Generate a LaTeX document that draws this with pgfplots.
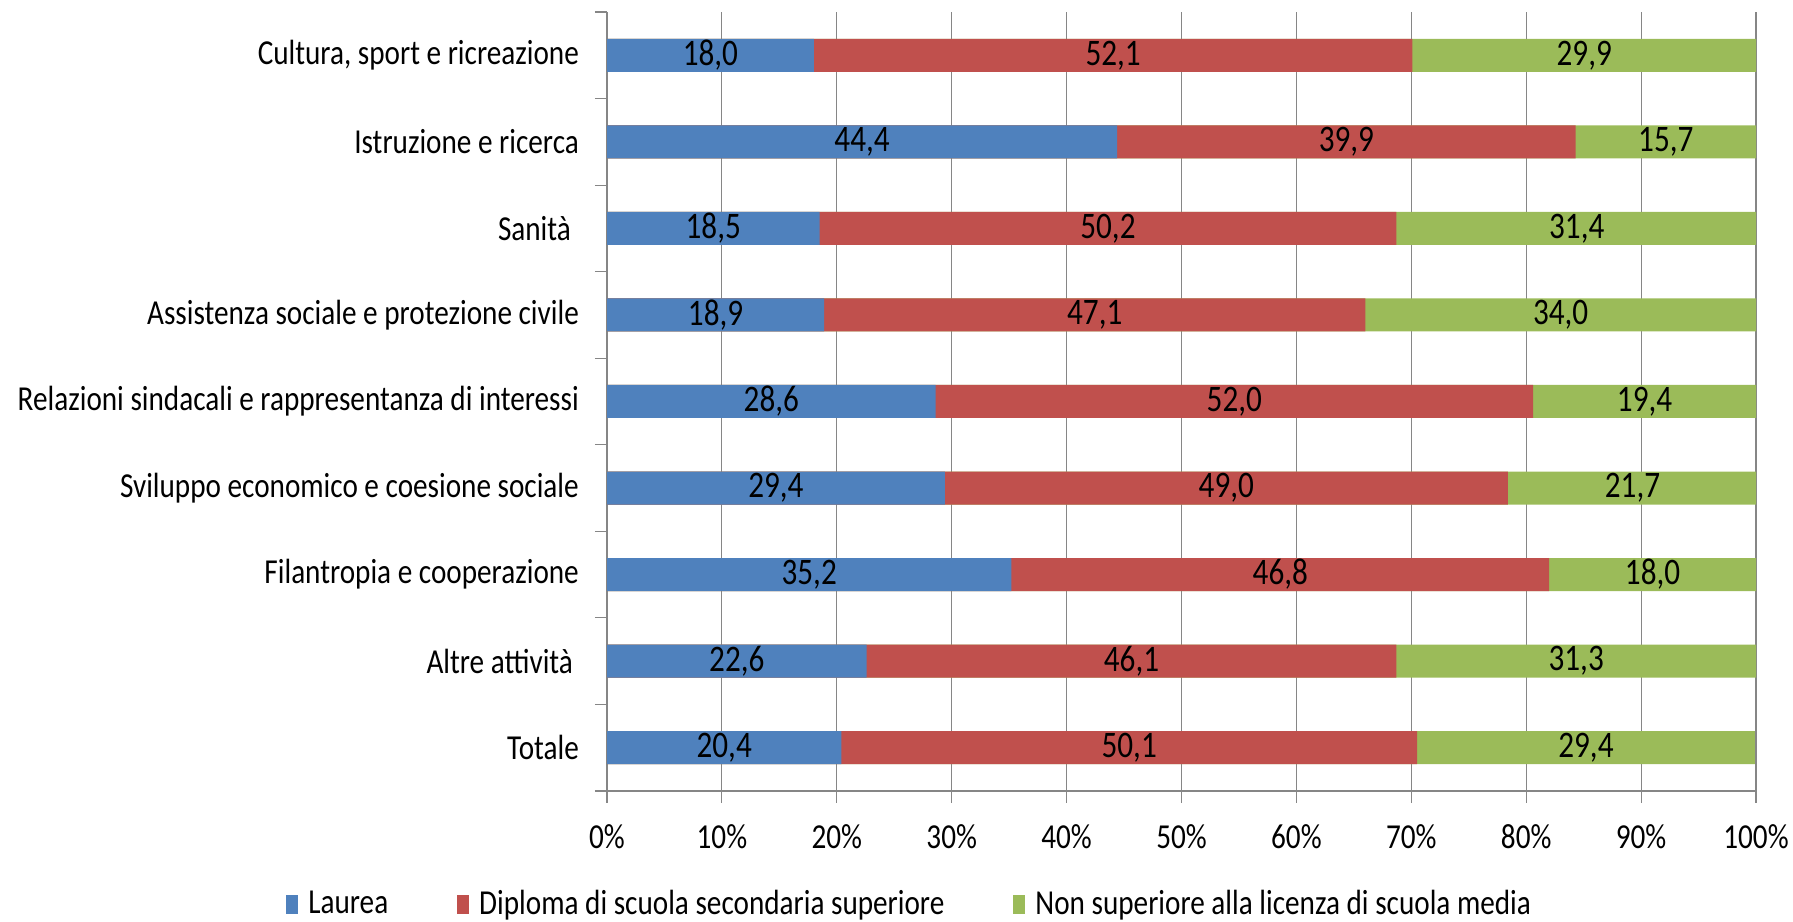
\documentclass[border=0pt]{standalone}
\usepackage{fontspec}
\setmainfont{Carlito}
\usepackage{graphicx}
\usepackage{pgfplots}
\usepackage{pgfplotstable}
\pgfplotsset{compat=1.18}
\definecolor{cblue}{HTML}{4F81BD}
\definecolor{cred}{HTML}{C0504D}
\definecolor{cgreen}{HTML}{9BBB59}
\definecolor{gridgray}{HTML}{868686}
\newcommand\vs[1]{\scalebox{1}[1.2]{#1}}
\newcommand\dl[1]{{\fontsize{15.6bp}{18bp}\selectfont\vs{#1}}}
\pgfplotstableread{
y a b c
8 18.0 52.1 29.9
7 44.4 39.9 15.7
6 18.5 50.2 31.4
5 18.9 47.1 34.0
4 28.6 52.0 19.4
3 29.4 49.0 21.7
2 35.2 46.8 18.0
1 22.6 46.1 31.3
0 20.4 50.1 29.4
}\datatab
\begin{document}
\fontsize{14.6bp}{17.5bp}\selectfont
\begin{tikzpicture}
\begin{axis}[name=ax, scale only axis, width=574.5bp, height=389.5bp,
  xmin=0, xmax=100, ymin=-0.5, ymax=8.5,
  /pgf/number format/assume math mode=true,
  axis x line*=bottom, axis y line*=left,
  axis line style={gridgray, line width=0.6bp},
  tick style={gridgray, line width=0.6bp},
  tick align=outside, major tick length=6bp,
  xtick={0,10,...,100},
  xticklabel={\vs{\pgfmathprintnumber{\tick}\%}},
  xmajorgrids, grid style={gridgray, line width=0.6bp},
  ytick={-0.5,0.5,...,8.5},
  y tick label as interval,
  yticklabels={\vs{Totale}, \vs{Altre attività\hspace{3bp}}, \vs{Filantropia e cooperazione}, \vs{Sviluppo economico e coesione sociale}, \vs{Relazioni sindacali e rappresentanza di interessi}, \vs{Assistenza sociale e protezione civile}, \vs{Sanità\hspace{4bp}}, \vs{Istruzione e ricerca}, \vs{{Cultura, sport e ricreazione}}},
  yticklabel style={xshift=-3bp},
  xticklabel style={yshift=-5.5bp},
  legend style={at={(-0.2794,-0.146)}, anchor=west, draw=none, inner sep=0pt, legend columns=3,
    /tikz/every even column/.append style={column sep=32.5bp},
    /tikz/every odd column/.append style={column sep=3bp}},
  legend image code/.code={\fill[#1] (0bp,-4.8bp) rectangle (6bp,4.8bp);},
  reverse legend,
]
\addplot[xbar, bar width=16.5bp, bar shift=0pt, fill=cgreen, draw=none] table[x expr=\thisrow{a}+\thisrow{b}+\thisrow{c}, y=y]{\datatab};
\addlegendentry{\vs{Non superiore alla licenza di scuola media}}
\addplot[xbar, bar width=16.5bp, bar shift=0pt, fill=cred, draw=none] table[x expr=\thisrow{a}+\thisrow{b}, y=y]{\datatab};
\addlegendentry{\vs{Diploma di scuola secondaria superiore}}
\addplot[xbar, bar width=16.5bp, bar shift=0pt, fill=cblue, draw=none] table[x=a, y=y]{\datatab};
\addlegendentry{\vs{Laurea}}
\addplot[draw=none, mark=none, forget plot, point meta=explicit,
  nodes near coords={\dl{\pgfmathprintnumber[fixed,fixed zerofill,precision=1,use comma]{\pgfplotspointmeta}}},
  every node near coord/.append style={anchor=center, black, inner sep=0pt}]
  table[x expr=\thisrow{a}/2, y=y, meta=a]{\datatab};
\addplot[draw=none, mark=none, forget plot, point meta=explicit,
  nodes near coords={\dl{\pgfmathprintnumber[fixed,fixed zerofill,precision=1,use comma]{\pgfplotspointmeta}}},
  every node near coord/.append style={anchor=center, black, inner sep=0pt}]
  table[x expr=\thisrow{a}+\thisrow{b}/2, y=y, meta=b]{\datatab};
\addplot[draw=none, mark=none, forget plot, point meta=explicit,
  nodes near coords={\dl{\pgfmathprintnumber[fixed,fixed zerofill,precision=1,use comma]{\pgfplotspointmeta}}},
  every node near coord/.append style={anchor=center, black, inner sep=0pt}]
  table[x expr=\thisrow{a}+\thisrow{b}+\thisrow{c}/2, y=y, meta=c]{\datatab};
\end{axis}
\pgfresetboundingbox
\path ([shift={(-303.5bp,-65.5bp)}]ax.south west) rectangle ([shift={(18.5bp,6bp)}]ax.north east);
\end{tikzpicture}
\end{document}
